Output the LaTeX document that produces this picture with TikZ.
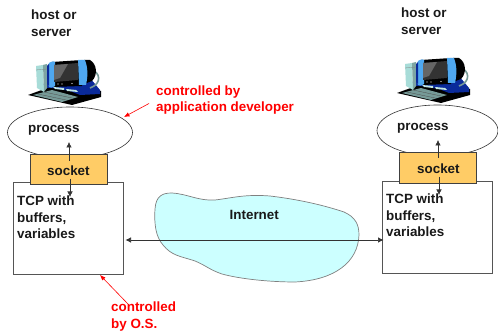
\documentclass[tikz,border=0pt]{standalone}
\usepackage{fontspec}
\setmainfont{Liberation Sans}
\usetikzlibrary{arrows.meta,shapes.geometric}
\definecolor{sockfill}{HTML}{FFCC66}
\definecolor{cloudfill}{HTML}{CCFFFF}
\definecolor{edgegray}{HTML}{555555}
\definecolor{ctlred}{HTML}{FF0000}
\definecolor{pcblue}{HTML}{0A2A9A}
\definecolor{pclight}{HTML}{4FA8F0}
\definecolor{pcteal}{HTML}{A8DCD8}
\tikzset{
  x=1pt,y=-1pt,
  lbl/.style={font=\fontsize{13.4}{16.5}\selectfont\bfseries,align=left,anchor=north west,inner sep=0pt,text=black!90},
  redlbl/.style={lbl,text=ctlred},
  procell/.style={draw=black!80,fill=white,line width=.6pt,ellipse,minimum width=#1,minimum height=51pt,inner sep=0pt},
  sockbox/.style={draw=black!75,fill=sockfill,line width=.8pt,minimum width=77pt,minimum height=30.5pt,inner sep=0pt},
  tcpbox/.style={draw=edgegray,fill=white,line width=.8pt,minimum width=110pt,minimum height=92pt,inner sep=0pt},
  conn/.style={draw=black!80,line width=.6pt,-{Latex[length=5.5pt,width=5.5pt]}},
  redconn/.style={draw=ctlred,line width=.6pt,-{Latex[length=5.5pt,width=4.5pt]}},
  pics/computer/.style={code={
    % keyboard base
    \fill[black] (28,95) -- (50,87) -- (101,91) -- (101,97) -- (72,105) -- cycle;
    \fill[pcteal!70!black] (33,95) -- (52,90) -- (78,97) -- (62,102) -- cycle;
    \draw[black!70,line width=.3pt] (38,94) -- (66,100) (44,92) -- (72,98);
    % desktop
    \fill[pcblue] (43,88) -- (45,78) -- (90,78) -- (100,90) -- (100,94) -- (80,95) -- (70,91) -- (52,88) -- cycle;
    \fill[pcteal!70!white] (53,87) -- (64,88) -- (64,90) -- (55,89) -- cycle;
    \fill[pcteal!70!white] (66,89) -- (76,90) -- (78,92) -- (67,91) -- cycle;
    % tower
    \fill[pcteal] (36,66) -- (43,65) -- (44,92) -- (37,88) -- cycle;
    \fill[pcteal!75!black] (43,65) -- (47,64) -- (47,88) -- (44,92) -- cycle;
    \draw[black!50,line width=.3pt] (36,70) -- (47,69);
    % cable and rear
    \draw[pcteal!70!black,line width=1.6pt] (90,69) .. controls (101,72) and (102,84) .. (90,88);
    \fill[black] (84,60) -- (90,60) .. controls (97,64) and (98,75) .. (92,81) -- (84,84) -- cycle;
    % bezels
    \fill[black] (52,62) -- (82,60) -- (82,86) -- (52,87) -- cycle;
    \fill[pclight] (49,63) .. controls (52,61) and (55,61) .. (55,62) -- (55,86) .. controls (52,88) and (50,88) .. (49,87) .. controls (46,78) and (46,70) .. (49,63) -- cycle;
    \fill[pcblue] (47,66) -- (49,64) -- (49,86) -- (47,84) -- cycle;
    \fill[pclight] (78,60) -- (85,60) .. controls (88,68) and (88,76) .. (86,85) -- (79,85) -- cycle;
    % screen
    \fill[black!80] (54,65) -- (78,63) -- (78,80) -- (54,82) -- cycle;
    \fill[black!60] (54,65) -- (68,64) -- (60,78) -- (54,80) -- cycle;
    \fill[white] (58,84) circle (.7) (62,84) circle (.7) (72,83.5) circle (.7);
  }}
}
\begin{document}
\begin{tikzpicture}
\useasboundingbox (0,0) rectangle (498,336);
\fill[white] (0,0) rectangle (498,336);

% left host
\node[tcpbox] (tcpL) at (68,228.7) {};
\node[procell=125pt] (procL) at (70,132.5) {};
\node[sockbox] (sockL) at (69,169.5) {};
\pic at (0,0) {computer};
\node[lbl] (hostL) at (31,10) {host or\\server};
\node[lbl] (procLt) at (28,125.5) {process};
\node[lbl] (sockLt) at (47,165.5) {socket};
\node[lbl] (tcpLt) at (17,196) {TCP with\\buffers,\\variables};

% right host
\node[tcpbox] (tcpR) at (437.5,227) {};
\node[procell=121pt] (procR) at (437.5,130.5) {};
\node[sockbox] (sockR) at (438,168) {};
\pic at (369,-2) {computer};
\node[lbl] (hostR) at (401,8) {host or\\server};
\node[lbl] (procRt) at (397,123.5) {process};
\node[lbl] (sockRt) at (417,163.5) {socket};
\node[lbl] (tcpRt) at (386,194) {TCP with\\buffers,\\variables};

% cloud
\path[draw=black!50,fill=cloudfill,line width=.7pt]
  (155,209) .. controls (156,196) and (162,193) .. (172,193)
  .. controls (188,194) and (198,201) .. (215,200)
  .. controls (232,198) and (245,194) .. (270,196)
  .. controls (295,199) and (320,204) .. (344,212)
  .. controls (355,217) and (359,224) .. (359,235)
  .. controls (358,262) and (335,280) .. (295,282)
  .. controls (270,282) and (240,279) .. (222,274)
  .. controls (210,270) and (205,265) .. (195,261)
  .. controls (180,256) and (172,256) .. (163,245)
  .. controls (156,237) and (154,225) .. (155,209) -- cycle;
\node[lbl] (inet) at (229.5,210) {Internet};

% connectors
\coordinate (midL) at (125.5,240);
\coordinate (midR) at (383.5,240);
\draw[draw=black!80,line width=.6pt,{Latex[length=5.5pt,width=5.5pt]}-{Latex[length=5.5pt,width=5.5pt]}] (midL) -- (midR);

\coordinate (upLs) at (69,161); \coordinate (upLe) at (69,142);
\coordinate (dnLs) at (70,179); \coordinate (dnLe) at (70,197);
\coordinate (upRs) at (438,158); \coordinate (upRe) at (438,140);
\coordinate (dnRs) at (439,177); \coordinate (dnRe) at (439,195);
\draw[conn] (upLs) -- (upLe);
\draw[conn] (dnLs) -- (dnLe);
\draw[conn] (upRs) -- (upRe);
\draw[conn] (dnRs) -- (dnRe);

% red labels
\node[redlbl] (ctlApp) at (156,85.5) {controlled by\\application developer};
\node[redlbl] (ctlOS) at (111,302) {controlled\\by O.S.};
\coordinate (ctlAppS) at (149,103.5); \coordinate (ctlAppE) at (124,117);
\coordinate (ctlOSS) at (128,304); \coordinate (ctlOSE) at (100,275);
\draw[redconn] (ctlAppS) -- (ctlAppE);
\draw[redconn] (ctlOSS) -- (ctlOSE);
\end{tikzpicture}
\end{document}
